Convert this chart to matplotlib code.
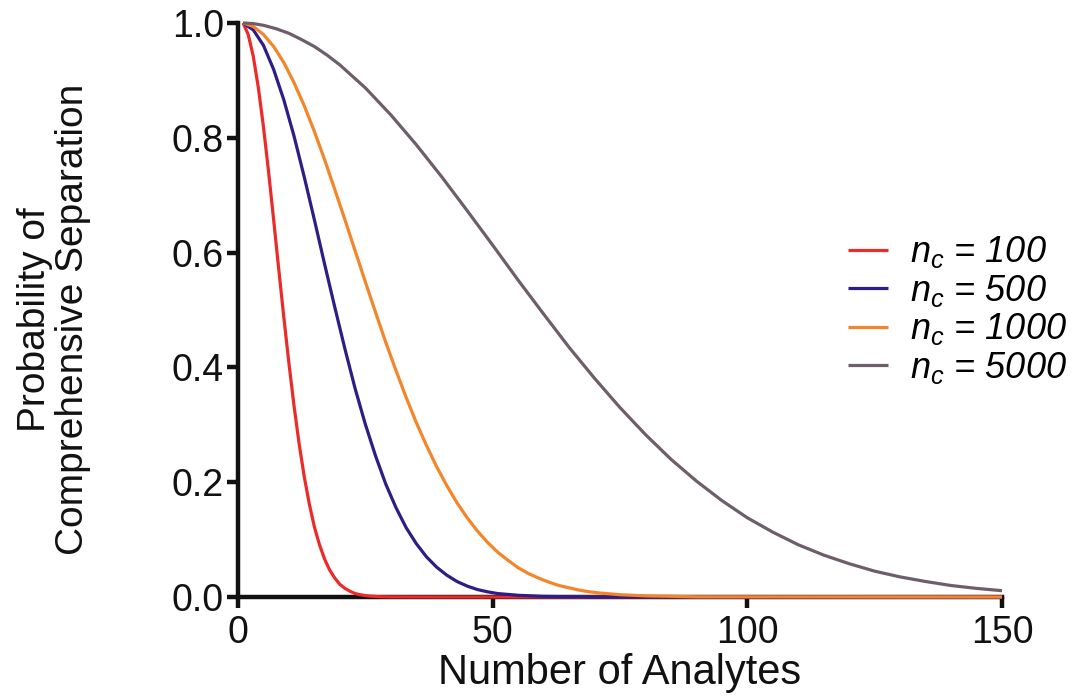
import matplotlib
matplotlib.use("Agg")
import matplotlib.pyplot as plt

plt.rcParams['font.family'] = ['Liberation Sans', 'DejaVu Sans']
plt.rcParams['mathtext.fontset'] = 'custom'
plt.rcParams['mathtext.it'] = 'Liberation Sans:italic'
plt.rcParams['mathtext.rm'] = 'Liberation Sans:italic'

# ---- data ----
x_100 = [1, 2, 3, 4, 5, 6, 7, 8, 9, 10, 11, 12, 13, 14, 15, 16, 17, 18, 19, 20,
         21, 22, 23, 24, 25, 26, 27, 28, 30, 40, 150]
p_100 = [1.000, 0.980, 0.942, 0.887, 0.819, 0.741, 0.657, 0.571, 0.487, 0.407,
         0.333, 0.267, 0.210, 0.162, 0.122, 0.091, 0.066, 0.047, 0.033, 0.022,
         0.015, 0.010, 0.006, 0.004, 0.0025, 0.0015, 0.001, 0.0005, 0.0002, 0.0, 0.0]

x_500 = [1, 3, 5, 7, 9, 11, 13, 15, 17, 19, 21, 23, 25, 27, 29, 31, 33, 35, 37, 39,
         41, 43, 45, 47, 49, 51, 55, 60, 70, 150]
p_500 = [1.000, 0.988, 0.961, 0.919, 0.866, 0.803, 0.732, 0.657, 0.580, 0.505,
         0.432, 0.363, 0.301, 0.246, 0.197, 0.156, 0.121, 0.093, 0.070, 0.052,
         0.038, 0.027, 0.019, 0.013, 0.009, 0.006, 0.003, 0.001, 0.0, 0.0]

x_1000 = [1, 3, 5, 7, 9, 11, 13, 15, 17, 19, 21, 23, 25, 27, 29, 31, 33, 35, 37, 39,
          41, 43, 45, 47, 49, 51, 53, 55, 57, 59, 61, 63, 65, 67, 69, 71, 75, 80, 90, 150]
p_1000 = [1.000, 0.994, 0.980, 0.959, 0.931, 0.896, 0.856, 0.811, 0.762, 0.710,
          0.657, 0.603, 0.549, 0.496, 0.444, 0.395, 0.348, 0.304, 0.264, 0.227,
          0.194, 0.164, 0.138, 0.115, 0.095, 0.078, 0.064, 0.051, 0.041, 0.033,
          0.026, 0.020, 0.016, 0.012, 0.009, 0.007, 0.004, 0.002, 0.0003, 0.0]

x_5000 = [1, 3, 5, 7.5, 10, 12.5, 15, 17.5, 20, 25, 30, 35, 40, 45, 50, 55, 60, 65,
          70, 75, 80, 85, 90, 95, 100, 105, 110, 115, 120, 125, 130, 135, 140, 145, 150]
p_5000 = [1.000, 0.999, 0.996, 0.990, 0.982, 0.971, 0.959, 0.944, 0.927, 0.887,
          0.840, 0.788, 0.732, 0.673, 0.613, 0.552, 0.493, 0.435, 0.381, 0.330,
          0.283, 0.240, 0.202, 0.168, 0.138, 0.113, 0.091, 0.073, 0.058, 0.045,
          0.035, 0.027, 0.020, 0.015, 0.011]

labels = [r'$n_c$ = 100', r'$n_c$ = 500', r'$n_c$ = 1000', r'$n_c$ = 5000']
colors = ['#EC2A2A', '#2F1C84', '#F5852A', '#6D5E69']
x_ticks = [0, 50, 100, 150]
y_ticks = [0.0, 0.2, 0.4, 0.6, 0.8, 1.0]

fig = plt.figure(figsize=(10.75, 6.98), dpi=100)
ax = fig.add_axes([238/1075, 1 - 597/698, (1002-238)/1075, (597-23)/698])

series = [(x_100, p_100), (x_500, p_500), (x_1000, p_1000), (x_5000, p_5000)]
for (xs, ys), lab, col in zip(series, labels, colors):
    ax.plot(xs, ys, color=col, lw=2.3, label=lab, clip_on=False, zorder=3,
            solid_capstyle='butt')

ax.set_xlim(0, 150)
ax.set_ylim(0, 1.0)
ax.set_xticks(x_ticks)
ax.set_yticks(y_ticks)
ax.set_yticklabels([f'{v:.1f}' for v in y_ticks])
for s in ['top', 'right']:
    ax.spines[s].set_visible(False)
for s in ['left', 'bottom']:
    ax.spines[s].set_linewidth(3.2)
    ax.spines[s].set_color('#111111')
    ax.spines[s].set_zorder(2)
ax.tick_params(axis='both', which='major', direction='out', length=8, width=3.2,
               color='#111111', labelsize=27, labelcolor='#111111')
ax.tick_params(axis='x', pad=5)
ax.tick_params(axis='y', pad=2)

ax.set_xlabel('Number of Analytes', fontsize=30, color='#111111')
ax.xaxis.set_label_coords(0.5, -0.098)
ax.set_ylabel('Probability of\nComprehensive Separation', fontsize=28,
              color='#111111', linespacing=1.1)
ax.yaxis.set_label_coords(-0.192, 0.483)

leg = fig.legend(loc='center left', bbox_to_anchor=(848/1075, 1 - 310/698),
                 frameon=False, handlelength=1.12, handletextpad=0.6,
                 labelspacing=0.07, borderpad=0, borderaxespad=0,
                 prop={'style': 'italic', 'size': 26})

fig.savefig('out.png', dpi=100)
